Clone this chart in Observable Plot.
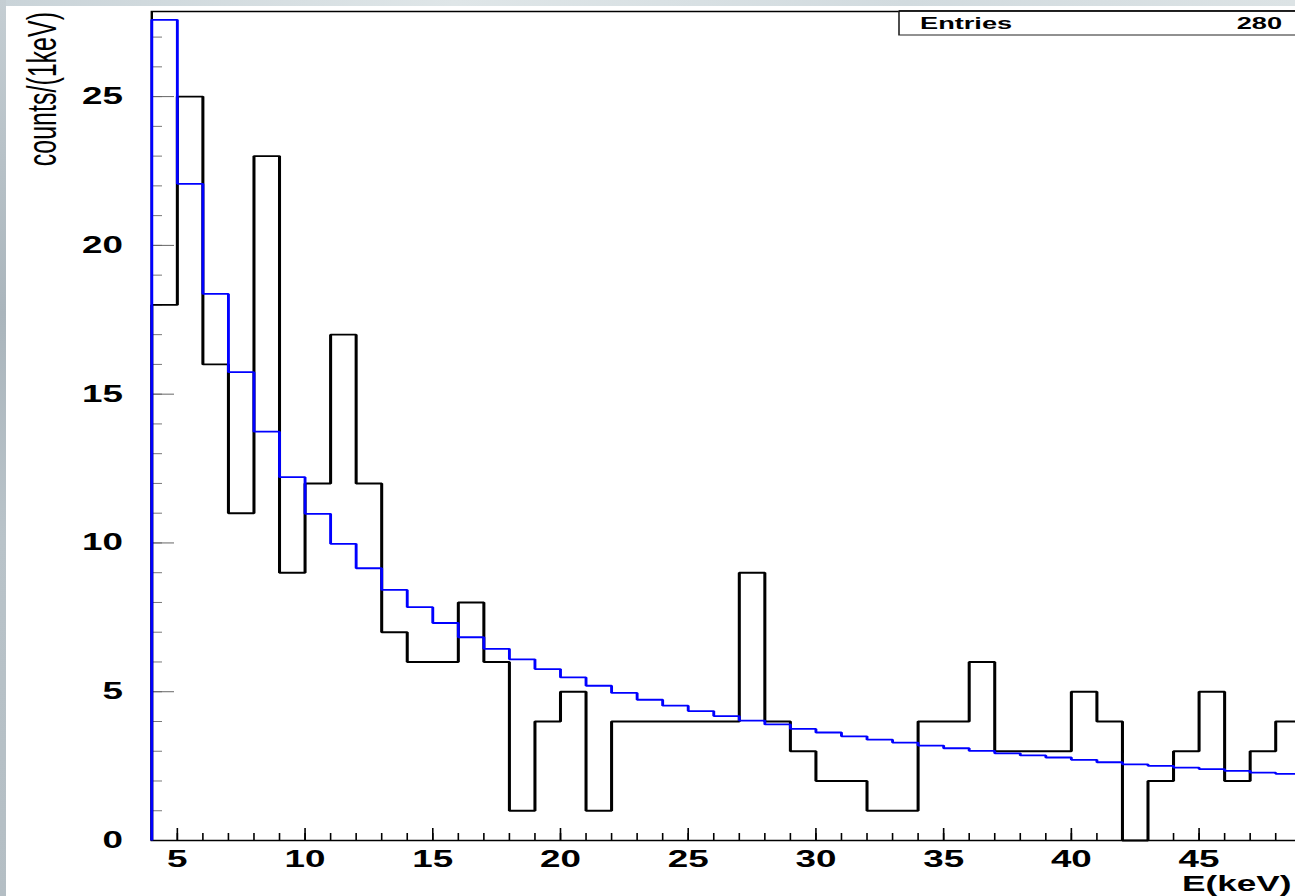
<!DOCTYPE html>
<html><head><meta charset="utf-8">
<script src="https://cdn.jsdelivr.net/npm/d3@7"></script>
<script src="https://cdn.jsdelivr.net/npm/@observablehq/plot@0.6"></script>
<style>
html,body{margin:0;padding:0;background:#fff;overflow:hidden;width:1295px;height:896px;}
#chart{position:absolute;left:0;top:0;}
#chart svg{transform:scaleX(1.6);transform-origin:0 0;background:transparent;max-width:none;overflow:visible;}
.band-top{position:absolute;left:0;top:0;width:1295px;height:6px;background:linear-gradient(90deg,#c9d3d8,#dfe6e8 35%,#d2dbdf 70%,#dce3e5);z-index:5}
.band-left{position:absolute;left:0;top:0;width:6px;height:896px;background:linear-gradient(180deg,#c5ced3,#aab5bc 35%,#b9c3c9 60%,#b4bec4);z-index:5}
</style></head><body>
<div id="chart"></div><div class="band-top"></div><div class="band-left"></div>
<script>
// Bin lower edges (keV), 1 keV wide
const binLow = [4,5,6,7,8,9,10,11,12,13,14,15,16,17,18,19,20,21,22,23,24,25,26,27,28,29,30,31,32,33,34,35,36,37,38,39,40,41,42,43,44,45,46,47,48,49];
const binHighEnd = 50;
// Measured counts per bin (black histogram)
const counts = [18,25,16,11,23,9,12,17,12,7,6,6,8,6,1,4,5,1,4,4,4,4,4,9,4,3,2,2,1,1,4,4,6,3,3,3,5,4,0,2,3,5,2,3,4,0];
// Fit expectation per bin (blue histogram)
const fitValues = [27.58,22.07,18.37,15.74,13.74,12.21,10.98,9.97,9.15,8.42,7.84,7.31,6.83,6.44,6.09,5.76,5.48,5.20,4.96,4.73,4.53,4.35,4.18,4.03,3.90,3.75,3.63,3.50,3.39,3.29,3.19,3.10,3.01,2.93,2.86,2.79,2.71,2.63,2.56,2.51,2.45,2.40,2.34,2.28,2.24,2.20];
// Axis ticks
const xMajorTicks = [5,10,15,20,25,30,35,40,45];
const xMinorTicks = [4,5,6,7,8,9,10,11,12,13,14,15,16,17,18,19,20,21,22,23,24,25,26,27,28,29,30,31,32,33,34,35,36,37,38,39,40,41,42,43,44,45,46,47,48,49,50];
const yMajorTicks = [0,5,10,15,20,25];
const yMinorTicks = [0,1,2,3,4,5,6,7,8,9,10,11,12,13,14,15,16,17,18,19,20,21,22,23,24,25,26,27];
const xDomain = [4, 50];
const yDomain = [0, 27.86];
const xLabel = "E(keV)";
const yLabel = "counts/(1keV)";
const statsName = "Entries";
const statsValue = "280";

const S = 1.6; // horizontal stretch of the original picture
function stepPoints(vals){
  const pts = [{x: binLow[0], y: 0}];
  binLow.forEach((b, i) => pts.push({x: b, y: vals[i]}));
  pts.push({x: binHighEnd, y: vals[vals.length - 1]});
  pts.push({x: binHighEnd, y: 0});
  return pts;
}
const histData = stepPoints(counts);
const fitData = stepPoints(fitValues);

const W = 840, H = 896;
const mL = 151 / S, mR = W - 1326 / S, mT = 11, mB = H - 840;
const font = "'Liberation Sans', Arial, Helvetica, sans-serif";

const chart = Plot.plot({
  width: W, height: H,
  marginLeft: mL, marginRight: mR, marginTop: mT, marginBottom: mB,
  style: {background: "transparent", fontFamily: font},
  x: {domain: xDomain, label: null},
  y: {domain: yDomain, label: null},
  marks: [
    Plot.axisY({ticks: yMinorTicks, tickSize: -11 / S, text: null, label: null, stroke: "#777", strokeWidth: 1}),
    Plot.axisY({ticks: yMajorTicks, tickSize: -23 / S, text: null, label: null, stroke: "#666", strokeWidth: 1}),
    Plot.axisY({ticks: yMajorTicks, tickSize: 0, tickPadding: 18, fontSize: 23, fontWeight: "bold", fontFamily: font, fill: "black", label: null}),
    Plot.axisX({ticks: xMinorTicks, tickSize: -7, text: null, label: null, stroke: "black", strokeWidth: 1}),
    Plot.axisX({ticks: xMajorTicks, tickSize: -12, text: null, label: null, stroke: "black", strokeWidth: 1}),
    Plot.axisX({ticks: xMajorTicks, tickSize: 0, tickPadding: 10, fontSize: 23, fontWeight: "bold", fontFamily: font, fill: "black", label: null}),
    Plot.frame({stroke: "black", strokeWidth: 1.5}),
    Plot.line(histData, {x: "x", y: "y", curve: "step-after", stroke: "black", strokeWidth: 1.9, strokeLinejoin: "miter", strokeLinecap: "butt"}),
    Plot.line(fitData, {x: "x", y: "y", curve: "step-after", stroke: "#0000ff", strokeWidth: 1.8, strokeLinejoin: "miter", strokeLinecap: "butt"})
  ]
});
document.getElementById("chart").appendChild(chart);

const svg = d3.select(chart);
// y axis title (rotated)
svg.append("text")
  .attr("transform", `translate(${42 / S},12) rotate(-90)`)
  .attr("text-anchor", "end").attr("dy", "0.35em")
  .attr("font-family", font).attr("font-size", 25).attr("fill", "black")
  .text(yLabel);
// x axis title
svg.append("text")
  .attr("x", 1182 / S).attr("y", 891)
  .attr("text-anchor", "start")
  .attr("font-family", font).attr("font-size", 22).attr("font-weight", "bold").attr("fill", "black")
  .text(xLabel);
// stats box
const bx = 899 / S, by = 11, bh = 24, bRight = 1326 / S;
svg.append("rect").attr("x", bx).attr("y", by).attr("width", bRight - bx).attr("height", bh)
  .attr("fill", "white").attr("stroke", "#222").attr("stroke-width", 1);
svg.append("line").attr("x1", bx).attr("x2", bRight).attr("y1", by).attr("y2", by).attr("stroke", "black").attr("stroke-width", 1.5);
svg.append("text").attr("x", 920 / S).attr("y", 29).attr("text-anchor", "start")
  .attr("font-family", font).attr("font-size", 17).attr("font-weight", "bold").attr("fill", "black").text(statsName);
svg.append("text").attr("x", 1282 / S).attr("y", 29).attr("text-anchor", "end")
  .attr("font-family", font).attr("font-size", 17).attr("font-weight", "bold").attr("fill", "black").text(statsValue);
</script>
</body></html>
